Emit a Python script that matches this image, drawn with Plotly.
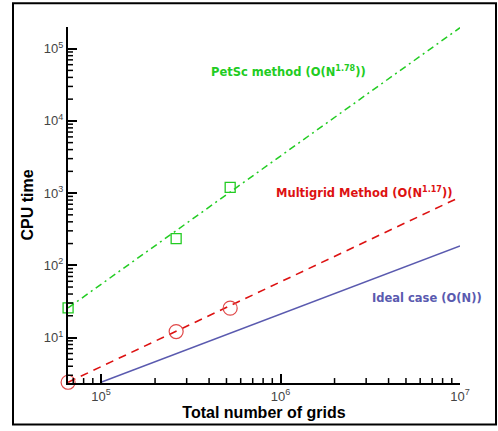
import math
import plotly.graph_objects as go

# Measured points
grid_pts = [65536, 262144, 524288]
petsc_time = [25.7, 234, 1200]
multigrid_time = [2.4, 12.1, 25.5]

# Fitted / reference lines (endpoints)
petsc_fit_x = [65536, 1e7]
petsc_fit_y = [25.7, 1.95e5]
mg_fit_x = [65536, 1e7]
mg_fit_y = [2.4, 880]
ideal_x = [1e5, 1e7]
ideal_y = [2.4, 185]

# Tick labels
x_major = [1e5, 1e6, 1e7]
x_major_text = ["10<sup>5</sup>", "10<sup>6</sup>", "10<sup>7</sup>"]
y_major = [1e1, 1e2, 1e3, 1e4, 1e5]
y_major_text = ["10<sup>1</sup>", "10<sup>2</sup>", "10<sup>3</sup>", "10<sup>4</sup>", "10<sup>5</sup>"]

GREEN = "#22cc22"
RED = "#dd1111"
BLUE = "#5a5aaf"

X_RANGE = [4.8160, 7.0]
Y_RANGE = [0.37, 5.30]

fig = go.Figure()
fig.add_trace(go.Scatter(x=petsc_fit_x, y=petsc_fit_y, mode="lines",
                         line=dict(color=GREEN, width=1.5, dash="7px,4px,2px,4px"),
                         showlegend=False, hoverinfo="skip"))
fig.add_trace(go.Scatter(x=mg_fit_x, y=mg_fit_y, mode="lines",
                         line=dict(color=RED, width=1.6, dash="8px,6px"),
                         showlegend=False, hoverinfo="skip"))
fig.add_trace(go.Scatter(x=ideal_x, y=ideal_y, mode="lines",
                         line=dict(color=BLUE, width=1.4),
                         showlegend=False, hoverinfo="skip"))
fig.add_trace(go.Scatter(x=grid_pts, y=petsc_time, mode="markers", cliponaxis=False,
                         marker=dict(symbol="square-open", size=10, color=GREEN,
                                     line=dict(width=1.3, color=GREEN)),
                         showlegend=False))
fig.add_trace(go.Scatter(x=grid_pts, y=multigrid_time, mode="markers", cliponaxis=False,
                         marker=dict(symbol="circle-open", size=14, color="#e04848",
                                     line=dict(width=1.2, color="#e04848")),
                         showlegend=False))

L, R, T, B = 68, 38, 27, 44
W, H = 498, 431
pw, ph = W - L - R, H - T - B

def px(xp):
    return (xp - L) / pw

def py(yp):
    return (H - B - yp) / ph

def minor_vals(lo, hi):
    vals = []
    for e in range(lo, hi):
        for d in range(2, 10):
            vals.append(d * 10 ** e)
    return vals

def xfrac(v):
    return (math.log10(v) - X_RANGE[0]) / (X_RANGE[1] - X_RANGE[0])

def yfrac(v):
    return (math.log10(v) - Y_RANGE[0]) / (Y_RANGE[1] - Y_RANGE[0])

tickfont = dict(family="Arial, Liberation Sans", size=13, color="#444")

fig.update_layout(
    xaxis=dict(type="log", range=X_RANGE, showgrid=False, zeroline=False, showline=True,
               linecolor="black", linewidth=2, ticks="inside", ticklen=9, tickwidth=2,
               tickcolor="black", tickmode="array",
               tickvals=x_major, ticktext=x_major_text, tickfont=tickfont,
               title=dict(text="<b>Total number of grids</b>", standoff=4,
                          font=dict(family="Arial, Liberation Sans", size=16, color="black"))),
    yaxis=dict(type="log", range=Y_RANGE, showgrid=False, zeroline=False, showline=True,
               linecolor="black", linewidth=2, ticks="inside", ticklen=9, tickwidth=2,
               tickcolor="black", tickmode="array",
               tickvals=y_major, ticktext=y_major_text, tickfont=tickfont,
               title=dict(text="<b>CPU time</b>", standoff=6,
                          font=dict(family="Arial, Liberation Sans", size=16, color="black"))),
)

# minor inside tick marks, placed through the log scale of each axis
MIN_LEN = 5
for v in minor_vals(4, 7):
    f = xfrac(v)
    if 0 <= f <= 1:
        fig.add_shape(type="line", xref="paper", yref="paper", x0=f, x1=f, y0=0, y1=MIN_LEN / ph,
                      line=dict(color="black", width=1.5), layer="above")
for v in minor_vals(0, 6):
    f = yfrac(v)
    if 0 <= f <= 1:
        fig.add_shape(type="line", xref="paper", yref="paper", x0=0, x1=MIN_LEN / pw, y0=f, y1=f,
                      line=dict(color="black", width=1.5), layer="above")

ann_font = dict(family="DejaVu Sans", size=11.5)
fig.add_annotation(x=px(288), y=py(72), xref="paper", yref="paper", showarrow=False,
                   xanchor="center", yanchor="middle",
                   text="<b>PetSc method (O(N<sup>1.78</sup>))</b>",
                   font=dict(color=GREEN, **ann_font))
fig.add_annotation(x=px(364), y=py(194), xref="paper", yref="paper", showarrow=False,
                   xanchor="center", yanchor="middle",
                   text="<b>Multigrid Method (O(N<sup>1.17</sup>))</b>",
                   font=dict(color=RED, **ann_font))
fig.add_annotation(x=px(427), y=py(301), xref="paper", yref="paper", showarrow=False,
                   xanchor="center", yanchor="middle",
                   text="<b>Ideal case (O(N))</b>",
                   font=dict(color=BLUE, **ann_font))

fig.add_shape(type="rect", xref="paper", yref="paper",
              x0=px(13), x1=px(496), y0=py(429), y1=py(3),
              line=dict(color="black", width=2), fillcolor="rgba(0,0,0,0)")

fig.update_layout(width=W, height=H, margin=dict(l=L, r=R, t=T, b=B),
                  plot_bgcolor="white", paper_bgcolor="white", showlegend=False)

fig.write_html("out.html", config={"displayModeBar": False},
               post_script="document.body.style.margin='0';")
